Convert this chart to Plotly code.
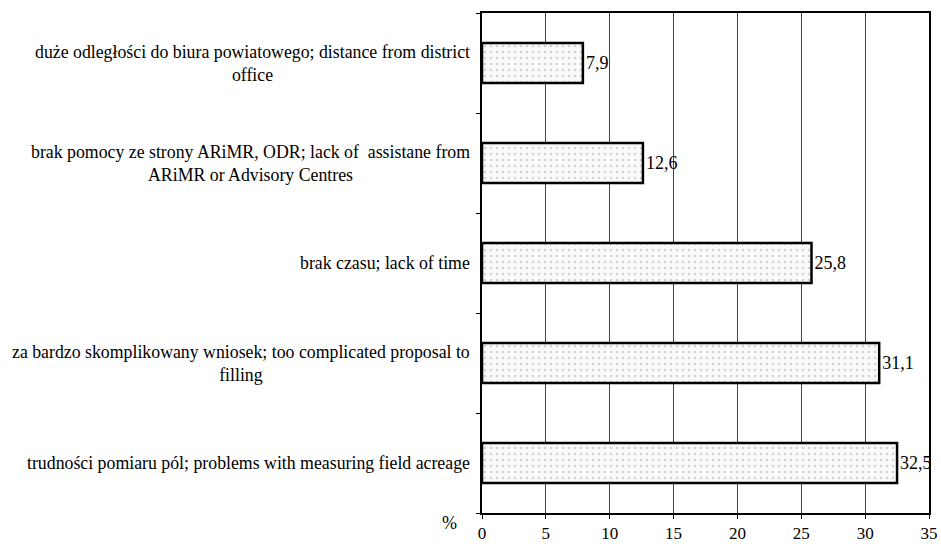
import plotly.graph_objects as go

categories = [
    "duże odległości do biura powiatowego; distance from district<br>office",
    "brak pomocy ze strony ARiMR, ODR; lack of  assistane from<br>ARiMR or Advisory Centres",
    "brak czasu; lack of time",
    "za bardzo skomplikowany wniosek; too complicated proposal to<br>filling",
    "trudności pomiaru pól; problems with measuring field acreage",
]
values = [7.9, 12.6, 25.8, 31.1, 32.5]
x_ticks = [0, 5, 10, 15, 20, 25, 30, 35]

FONT = "Liberation Serif"
pos = list(range(len(categories)))
value_text = [f"{v:.1f}".replace(".", ",") for v in values]

fig = go.Figure()
fig.add_trace(go.Bar(
    x=values,
    y=pos,
    orientation="h",
    width=0.4,
    marker=dict(
        color="#f7f7f7",
        line=dict(color="black", width=2.5),
        pattern=dict(shape=".", fgcolor="#a8a8a8", bgcolor="#f9f9f9", size=6, solidity=0.12),
    ),
    text=value_text,
    textposition="outside",
    textfont=dict(family=FONT, size=18, color="black"),
    cliponaxis=False,
    showlegend=False,
))

annotations = []
for p, c in zip(pos, categories):
    annotations.append(dict(
        x=0, y=p, xref="paper", yref="y", text=c, showarrow=False,
        xanchor="right", yanchor="middle", align="center", xshift=-10,
        font=dict(family=FONT, size=17.8, color="black"),
    ))
annotations.append(dict(
    x=-0.072, y=-0.02, xref="paper", yref="paper", text="%", showarrow=False,
    xanchor="center", yanchor="middle",
    font=dict(family=FONT, size=18, color="black"),
))

fig.update_layout(
    width=941, height=546,
    margin=dict(l=482, r=12, t=13, b=33),
    paper_bgcolor="white", plot_bgcolor="white",
    bargap=0.6,
    annotations=annotations,
    xaxis=dict(
        range=[0, 35], tickvals=x_ticks, ticktext=[str(t) for t in x_ticks],
        showgrid=True, gridcolor="#444444", gridwidth=1,
        showline=True, linecolor="black", linewidth=1.5, mirror=True,
        ticks="outside", ticklen=4, tickcolor="black",
        tickfont=dict(family=FONT, size=17, color="black"),
        zeroline=False, automargin=False,
    ),
    yaxis=dict(
        range=[len(categories) - 0.5, -0.5],
        tickvals=[i + 0.5 for i in range(-1, len(categories))],
        showticklabels=False,
        ticks="outside", ticklen=4, tickcolor="black",
        showgrid=False, zeroline=False, automargin=False,
        showline=True, linecolor="black", linewidth=1.5, mirror=True,
    ),
)

fig.write_html(
    "out.html",
    config={"displayModeBar": False},
    post_script="document.body.style.margin='0px'; document.body.style.overflow='hidden';",
)
